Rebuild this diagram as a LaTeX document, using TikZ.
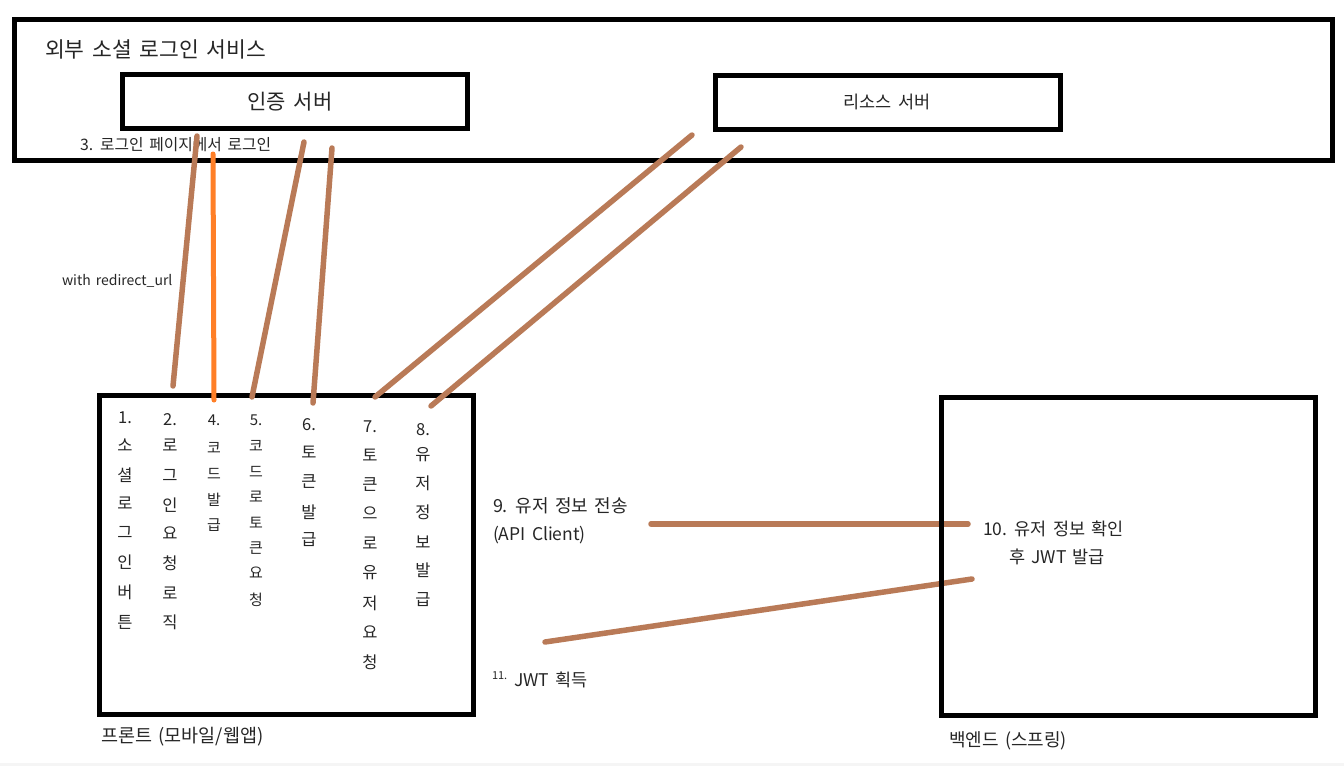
\documentclass[tikz,border=0pt]{standalone}
\usepackage{fontspec}
\setmainfont{Noto Sans CJK KR}[WordSpace=1.6]
\definecolor{brn}{HTML}{B97A57}
\definecolor{org}{HTML}{FF7F27}
\begin{document}
\begin{tikzpicture}[x=1pt,y=-1pt,
  box/.style={draw=black,line width=5pt,inner sep=0pt,outer sep=0pt},
  conn/.style={draw=brn,line width=5.5pt,line cap=round},
  connor/.style={draw=org,line width=5pt,line cap=round},
  lbl/.style={inner sep=0pt,outer sep=0pt,text=black!85},
  vt/.style={lbl,font=\fontsize{16.5}{18}\selectfont},
  vts/.style={lbl,font=\fontsize{15}{17}\selectfont}]
\fill[white] (0,0) rectangle (1344,766);
\fill[black!4] (0,762.5) rectangle (1344,766);
\useasboundingbox (0,0) rectangle (1344,766);

% boxes
\node[box,minimum width=1317.5pt,minimum height=140.5pt] (outer) at (673.25,89.75) {};
\node[box,minimum width=345pt,minimum height=54pt] (auth) at (295,101.5) {};
\node[box,minimum width=345pt,minimum height=54pt] (res) at (887.5,102.5) {};
\node[box,minimum width=374pt,minimum height=318.5pt] (front) at (286.5,554.75) {};

% box texts
\node[lbl,anchor=west,font=\fontsize{21.5}{24}\selectfont] (ttl) at (45,49) {외부 소셜 로그인 서비스};
\node[lbl,font=\fontsize{21}{24}\selectfont] (authT) at (290,101.5) {인증 서버};
\node[lbl,font=\fontsize{17.5}{20}\selectfont] (resT) at (887,102) {리소스 서버};
\node[lbl,anchor=west,font=\fontsize{15.8}{18}\selectfont] (s3) at (80,144.5) {3. 로그인 페이지에서 로그인};
\node[lbl,anchor=west,font=\fontsize{14}{16}\selectfont] (redir) at (62,281) {with redirect\_url};

% vertical column texts
\foreach \t/\y [count=\i] in {1./418,소/445,셜/475,로/503,그/532,인/562,버/592,튼/622}
  \node[vt] (a\i) at (125,\y) {\t};
\foreach \t/\y [count=\i] in {2./420,로/445,그/475,인/505,요/533,청/563,로/593,직/622}
  \node[vt] (b\i) at (170,\y) {\t};
\foreach \t/\y [count=\i] in {4./420,코/448,드/474,발/500,급/525}
  \node[vts] (c\i) at (214,\y) {\t};
\foreach \t/\y [count=\i] in {5./420,코/446,드/472,로/497,토/523,큰/548,요/573,청/600}
  \node[vts] (d\i) at (256,\y) {\t};
\foreach \t/\y [count=\i] in {6./425,토/452,큰/482,발/512,급/540}
  \node[vt] (e\i) at (309,\y) {\t};
\foreach \t/\y [count=\i] in {7./427,토/455,큰/485,으/513,로/543,유/573,저/603,요/632,청/662}
  \node[vt] (f\i) at (370,\y) {\t};
\foreach \t/\y [count=\i] in {8./430,유/455,저/483,정/512,보/542,발/570,급/600}
  \node[vt] (g\i) at (423,\y) {\t};

% other labels
\node[lbl,anchor=west,font=\fontsize{18}{20}\selectfont] (s9) at (493,506) {9. 유저 정보 전송};
\node[lbl,anchor=west,font=\fontsize{17.5}{20}\selectfont] (api) at (493,535) {(API Client)};
\node[lbl,anchor=west,font=\fontsize{17.5}{20}\selectfont] (s10) at (983,529) {10. 유저 정보 확인};
\node[lbl,anchor=west,font=\fontsize{17.5}{20}\selectfont] (s10b) at (1009,557) {후 JWT 발급};
\node[lbl,anchor=west,font=\fontsize{11}{13}\selectfont] (s11n) at (492,676) {11.};
\node[lbl,anchor=west,font=\fontsize{17.5}{20}\selectfont] (s11) at (514,680) {JWT 획득};
\node[lbl,anchor=west,font=\fontsize{18.5}{20}\selectfont] (frontT) at (101,736.5) {프론트 (모바일/웹앱)};
\node[lbl,anchor=west,font=\fontsize{18}{20}\selectfont] (backT) at (949,741) {백엔드 (스프링)};

% connector end points
\coordinate (p1a) at (197,136);  \coordinate (p1b) at (173,386);
\coordinate (p2a) at (213,154);  \coordinate (p2b) at (214,400);
\coordinate (p3a) at (304,142);  \coordinate (p3b) at (252,397);
\coordinate (p4a) at (332,148);  \coordinate (p4b) at (313,403);
\coordinate (p5a) at (692,135);  \coordinate (p5b) at (375,397);
\coordinate (p6a) at (741,147);  \coordinate (p6b) at (431,406);
\coordinate (p9a) at (651,524);  \coordinate (p9b) at (968,524);
\coordinate (p11a) at (545,642); \coordinate (p11b) at (972,579);

\draw[conn] (p1a) -- (p1b);
\draw[connor] (p2a) -- (p2b);
\draw[conn] (p3a) -- (p3b);
\draw[conn] (p4a) -- (p4b);
\draw[conn] (p5a) -- (p5b);
\draw[conn] (p6a) -- (p6b);
\draw[conn] (p9a) -- (p9b);
\draw[conn] (p11a) -- (p11b);

\node[box,minimum width=374pt,minimum height=318.5pt] (back) at (1128.5,556.25) {};
\end{tikzpicture}
\end{document}
